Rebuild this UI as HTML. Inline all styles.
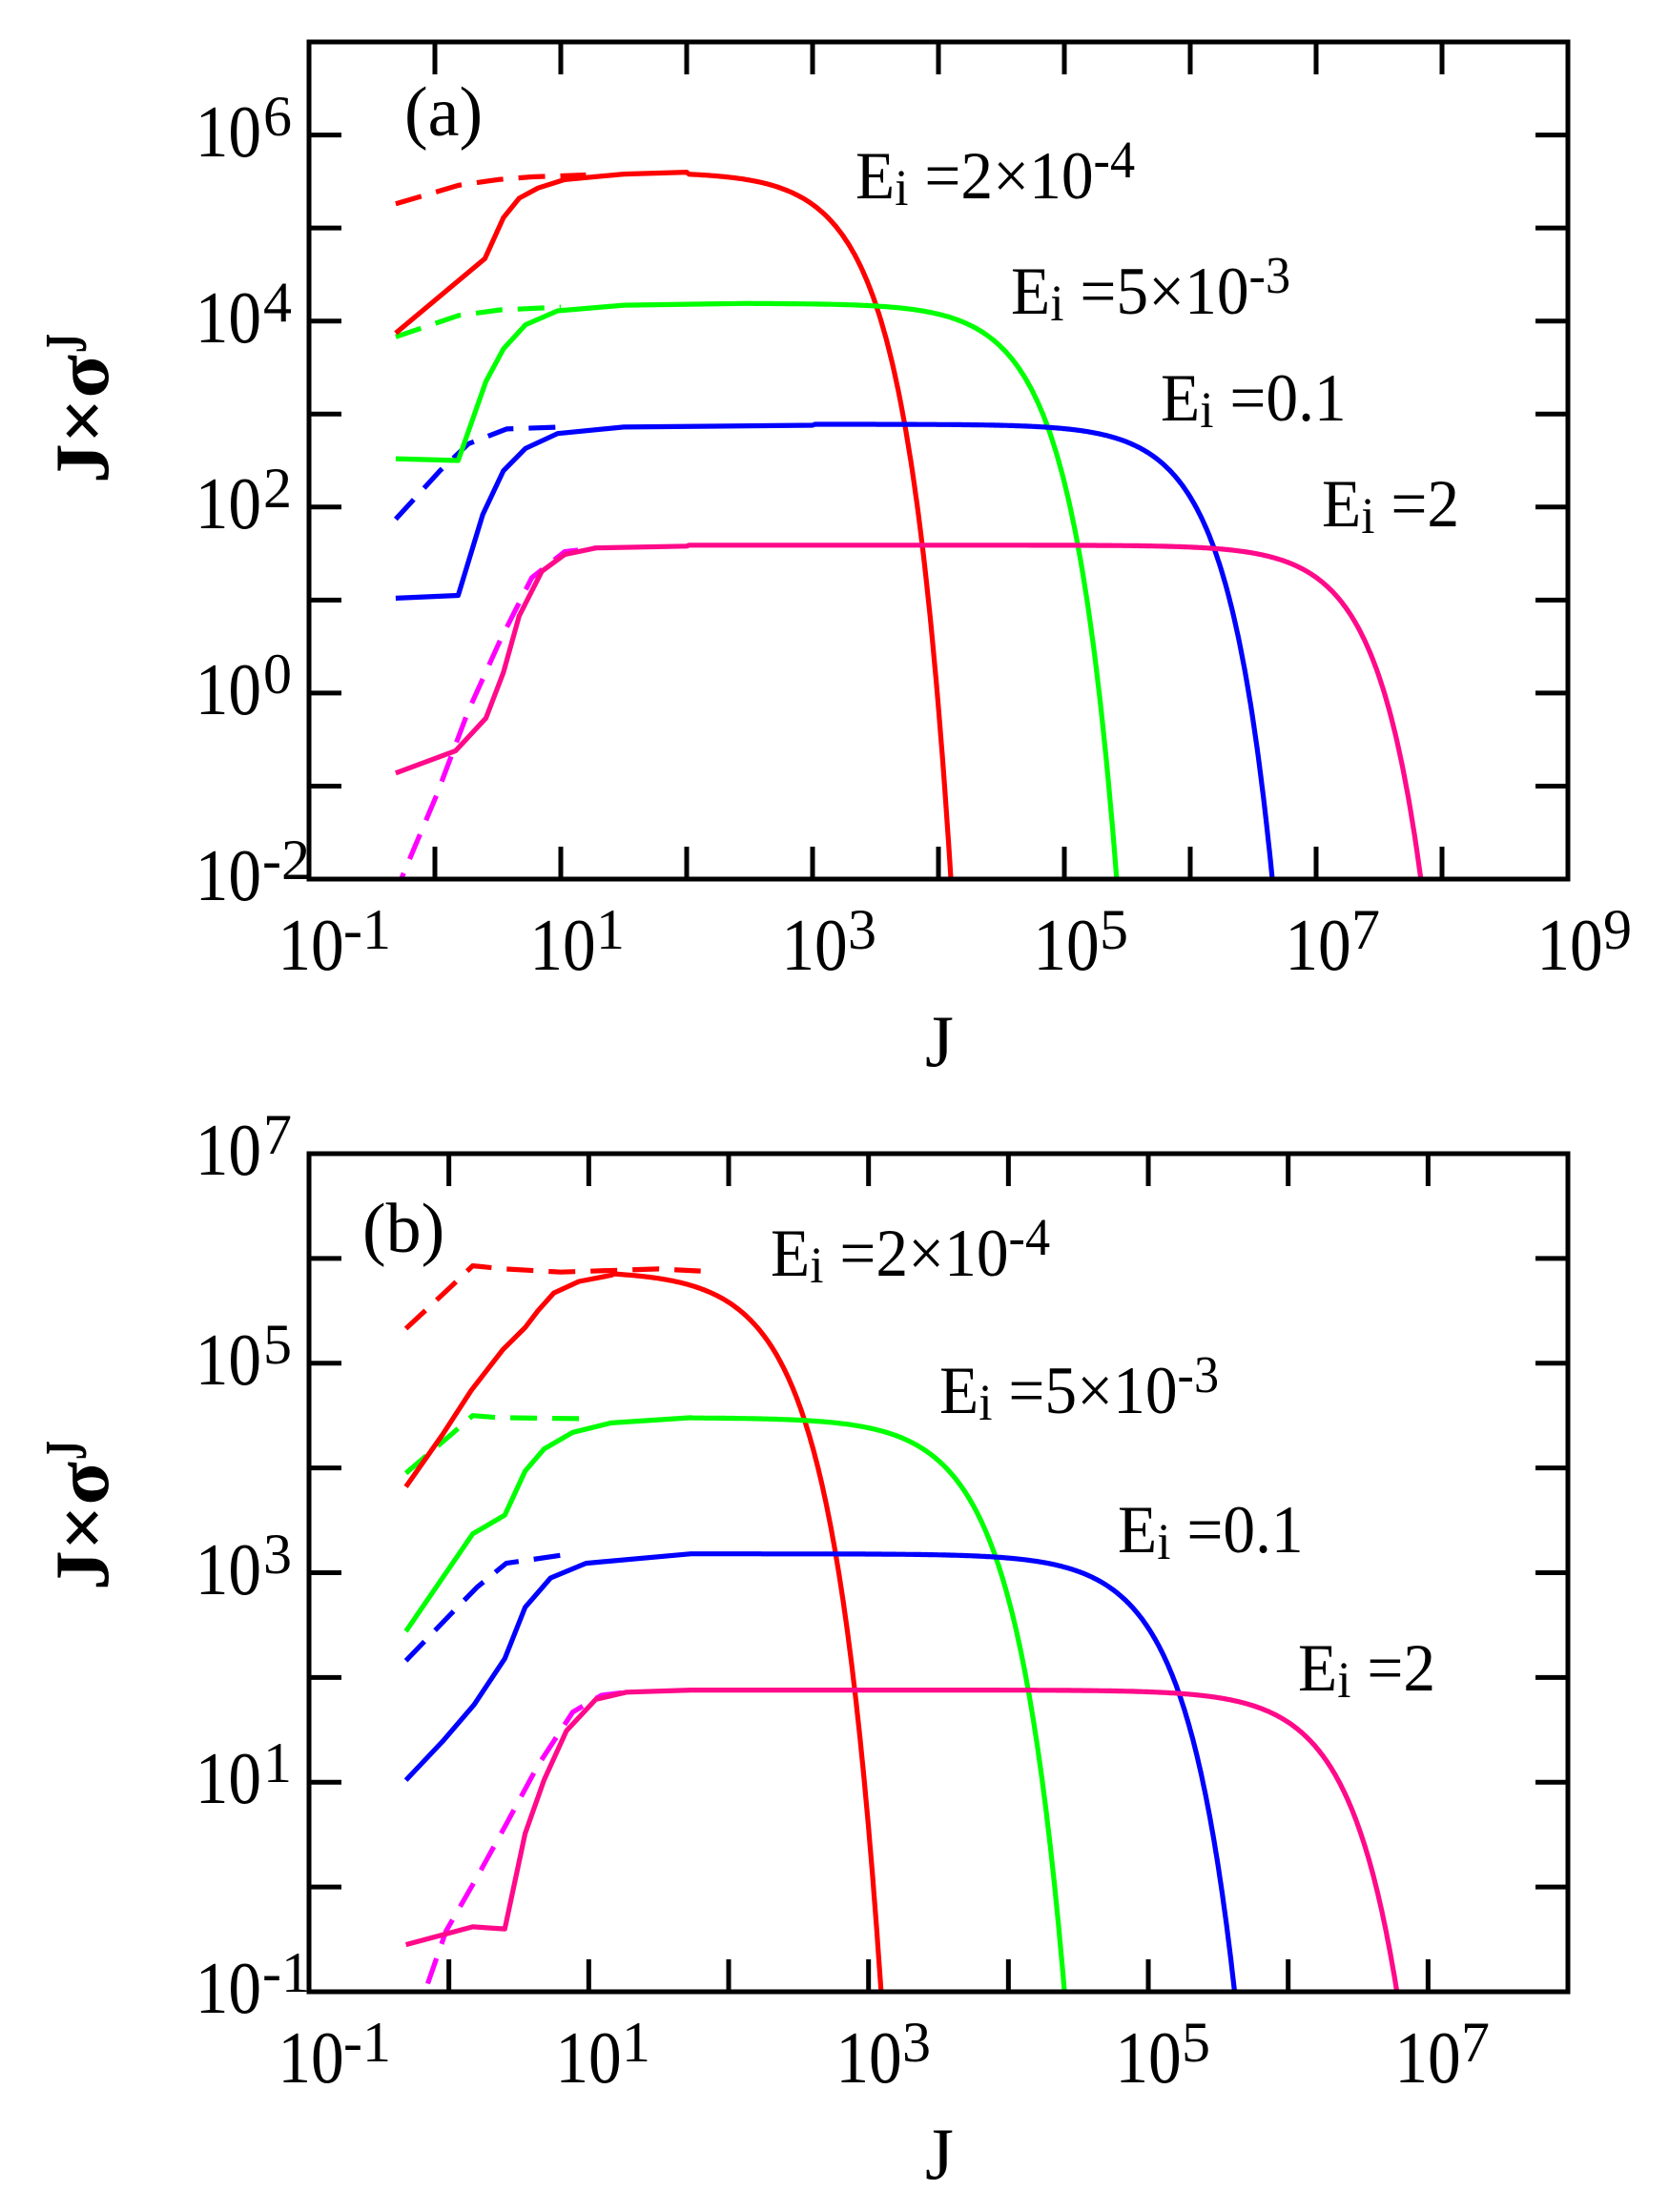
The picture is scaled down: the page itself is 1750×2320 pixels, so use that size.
<!DOCTYPE html>
<html><head><meta charset="utf-8">
<style>
html,body{margin:0;padding:0;background:#fff;}
svg{display:block;}
text{font-family:"Liberation Serif",serif;fill:#000;}
</style></head>
<body>
<svg id="s" width="1750" height="2320" viewBox="0 0 1750 2320" xmlns="http://www.w3.org/2000/svg">
<defs>
<clipPath id="ca"><rect x="324" y="44" width="1320" height="878"/></clipPath>
<clipPath id="cb"><rect x="324" y="1210" width="1320" height="879"/></clipPath>
</defs>
<g id="ga" clip-path="url(#ca)"></g>
<g id="gb" clip-path="url(#cb)"></g>
<g id="ticks" stroke="#000" stroke-width="5" fill="none"></g>
<rect x="324" y="44" width="1320" height="878" fill="none" stroke="#000" stroke-width="5"/>
<rect x="324" y="1210" width="1320" height="879" fill="none" stroke="#000" stroke-width="5"/>

<g font-size="77">
<text transform="translate(274,944) scale(0.9,1)" text-anchor="end">10</text>
<text transform="translate(274,749) scale(0.9,1)" text-anchor="end">10</text>
<text transform="translate(274,554) scale(0.9,1)" text-anchor="end">10</text>
<text transform="translate(274,359) scale(0.9,1)" text-anchor="end">10</text>
<text transform="translate(274,164) scale(0.9,1)" text-anchor="end">10</text>
</g>
<g font-size="60">
<text x="275" y="922">-2</text>
<text x="276" y="727">0</text>
<text x="276" y="532">2</text>
<text x="276" y="337">4</text>
<text x="276" y="142">6</text>
</g>
<g font-size="77">
<text transform="translate(326,1017) scale(0.9,1)" text-anchor="middle">10</text>
<text transform="translate(590,1017) scale(0.9,1)" text-anchor="middle">10</text>
<text transform="translate(854,1017) scale(0.9,1)" text-anchor="middle">10</text>
<text transform="translate(1118,1017) scale(0.9,1)" text-anchor="middle">10</text>
<text transform="translate(1382,1017) scale(0.9,1)" text-anchor="middle">10</text>
<text transform="translate(1646,1017) scale(0.9,1)" text-anchor="middle">10</text>
</g>
<g font-size="60">
<text x="360" y="995">-1</text>
<text x="625" y="995">1</text>
<text x="889" y="995">3</text>
<text x="1153" y="995">5</text>
<text x="1417" y="995">7</text>
<text x="1681" y="995">9</text>
</g>
<text transform="translate(985,1118)" font-size="77" text-anchor="middle">J</text>

<g font-size="77">
<text transform="translate(274,2111) scale(0.9,1)" text-anchor="end">10</text>
<text transform="translate(274,1891) scale(0.9,1)" text-anchor="end">10</text>
<text transform="translate(274,1672) scale(0.9,1)" text-anchor="end">10</text>
<text transform="translate(274,1452) scale(0.9,1)" text-anchor="end">10</text>
<text transform="translate(274,1232) scale(0.9,1)" text-anchor="end">10</text>
</g>
<g font-size="60">
<text x="275" y="2089">-1</text>
<text x="276" y="1869">1</text>
<text x="276" y="1650">3</text>
<text x="276" y="1430">5</text>
<text x="276" y="1210">7</text>
</g>
<g font-size="77">
<text transform="translate(326,2184) scale(0.9,1)" text-anchor="middle">10</text>
<text transform="translate(617,2184) scale(0.9,1)" text-anchor="middle">10</text>
<text transform="translate(911,2184) scale(0.9,1)" text-anchor="middle">10</text>
<text transform="translate(1204,2184) scale(0.9,1)" text-anchor="middle">10</text>
<text transform="translate(1497,2184) scale(0.9,1)" text-anchor="middle">10</text>
</g>
<g font-size="60">
<text x="360" y="2162">-1</text>
<text x="652" y="2162">1</text>
<text x="946" y="2162">3</text>
<text x="1239" y="2162">5</text>
<text x="1532" y="2162">7</text>
</g>
<text transform="translate(985,2285)" font-size="77" text-anchor="middle">J</text>

<text transform="translate(113,507) rotate(-90)" font-size="80" font-weight="bold" textLength="135" lengthAdjust="spacingAndGlyphs">J×σ</text>
<text transform="translate(90,370) rotate(-90)" font-size="62" font-weight="bold" textLength="20" lengthAdjust="spacingAndGlyphs">J</text>
<text transform="translate(113,1668) rotate(-90)" font-size="80" font-weight="bold" textLength="135" lengthAdjust="spacingAndGlyphs">J×σ</text>
<text transform="translate(90,1531) rotate(-90)" font-size="62" font-weight="bold" textLength="20" lengthAdjust="spacingAndGlyphs">J</text>

<text x="424" y="142" font-size="74">(a)</text>
<text x="380" y="1313" font-size="74">(b)</text>

<g font-size="71">
<text transform="translate(897,208) scale(0.95,1)">E<tspan font-size="54" dy="7">i</tspan><tspan dy="-7"> =2×10</tspan><tspan font-size="55" dy="-22">-4</tspan></text>
<text transform="translate(1060,329) scale(0.95,1)">E<tspan font-size="54" dy="7">i</tspan><tspan dy="-7"> =5×10</tspan><tspan font-size="55" dy="-22">-3</tspan></text>
<text transform="translate(1217,441) scale(0.95,1)">E<tspan font-size="54" dy="7">i</tspan><tspan dy="-7"> =0.1</tspan></text>
<text transform="translate(1386,552) scale(0.95,1)">E<tspan font-size="54" dy="7">i</tspan><tspan dy="-7"> =2</tspan></text>
<text transform="translate(808,1338) scale(0.95,1)">E<tspan font-size="54" dy="7">i</tspan><tspan dy="-7"> =2×10</tspan><tspan font-size="55" dy="-22">-4</tspan></text>
<text transform="translate(985,1482) scale(0.95,1)">E<tspan font-size="54" dy="7">i</tspan><tspan dy="-7"> =5×10</tspan><tspan font-size="55" dy="-22">-3</tspan></text>
<text transform="translate(1172,1628) scale(0.95,1)">E<tspan font-size="54" dy="7">i</tspan><tspan dy="-7"> =0.1</tspan></text>
<text transform="translate(1361,1773) scale(0.95,1)">E<tspan font-size="54" dy="7">i</tspan><tspan dy="-7"> =2</tspan></text>
</g>
</svg>
<script>
(function(){
var NS="http://www.w3.org/2000/svg";
function mk(parent,tag,attrs){var e=document.createElementNS(NS,tag);for(var k in attrs)e.setAttribute(k,attrs[k]);parent.appendChild(e);return e;}
var A={x0:324,dx:132,y0:922,dy:97.55,ymin:-2,lxmin:-1};
var B={x0:324,dx:146.67,y0:2089,dy:109.875,ymin:-1,lxmin:-1};
function px(P,lx){return P.x0+P.dx*(lx-P.lxmin);}
function py(P,ly){return P.y0-P.dy*(ly-P.ymin);}
function build(P,pts,cut){
  var a=pts.slice();
  if(cut){
    var P0=cut[0],lj=cut[1],p=cut[2];
    var x=pts[pts.length-1][0]+0.02;
    for(;x<12;x+=0.01){
      var y=P0-Math.pow(10,(x-lj)*p)/Math.LN10;
      a.push([x,y]);
      if(y<P.ymin-0.3)break;
    }
  }
  var d="";
  for(var i=0;i<a.length;i++){d+=(i?"L":"M")+px(P,a[i][0]).toFixed(1)+","+py(P,a[i][1]).toFixed(1);}
  return d;
}
function draw(g,P,pts,cut,col,dash){
  var at={d:build(P,pts,cut),fill:"none",stroke:col,"stroke-width":"5.2","stroke-linejoin":"round"};
  if(dash)at["stroke-dasharray"]="28 16";
  mk(g,"path",at);
}
var ga=document.getElementById("ga"),gb=document.getElementById("gb");
var R="#ff0000",G="#00ff00",Bl="#0000ff",Pk="#ff0a8a",Mg="#ff00ff";
draw(ga,A,[[-0.311,5.26],[0.19,5.46],[0.5,5.52],[0.77,5.55],[1.2,5.57]],null,R,true);
draw(ga,A,[[-0.311,3.83],[0.19,4.06],[0.52,4.12],[1.0,4.15]],null,G,true);
draw(ga,A,[[-0.311,1.87],[0.04,2.39],[0.266,2.68],[0.57,2.84],[1.0,2.86]],null,Bl,true);
draw(ga,A,[[-0.33,-2.2],[0.013,-1.1],[0.266,-0.19],[0.52,0.57],[0.77,1.24],[1.03,1.52],[1.28,1.56]],null,Mg,true);
draw(ga,A,[[-0.311,3.87],[0.397,4.67],[0.544,5.11],[0.67,5.32],[0.82,5.43],[1.03,5.52],[1.5,5.58],[2.0,5.6]],[5.6,3.08,1.22],R,false);
draw(ga,A,[[-0.311,2.52],[0.185,2.50],[0.405,3.35],[0.544,3.70],[0.72,3.96],[0.975,4.11],[1.5,4.17],[2.5,4.19]],[4.19,4.47,1.22],G,false);
draw(ga,A,[[-0.311,1.02],[0.185,1.05],[0.38,1.92],[0.544,2.39],[0.72,2.63],[0.975,2.79],[1.5,2.86],[3,2.88]],[2.89,5.79,1.22],Bl,false);
draw(ga,A,[[-0.311,-0.86],[0.165,-0.62],[0.405,-0.27],[0.544,0.22],[0.67,0.83],[0.85,1.31],[1.03,1.49],[1.28,1.56],[2,1.58]],[1.59,7.08,1.22],Pk,false);
draw(gb,B,[[-0.307,5.33],[0.023,5.74],[0.17,5.93],[0.4,5.9],[0.8,5.87],[1.5,5.9],[1.8,5.88]],null,R,true);
draw(gb,B,[[-0.307,3.95],[0.034,4.34],[0.17,4.5],[0.36,4.48],[1.0,4.47]],null,G,true);
draw(gb,B,[[-0.307,2.16],[0.01,2.6],[0.2,2.86],[0.41,3.09],[0.82,3.17]],null,Bl,true);
draw(gb,B,[[-0.25,-1.3],[-0.02,-0.42],[0.2,0.09],[0.41,0.6],[0.636,1.16],[0.886,1.67],[1.09,1.83],[1.27,1.86]],null,Mg,true);
draw(gb,B,[[-0.307,3.82],[-0.045,4.32],[0.16,4.74],[0.386,5.13],[0.545,5.34],[0.636,5.5],[0.75,5.67],[0.93,5.78],[1.16,5.84]],[5.88,2.13,1.25],R,false);
draw(gb,B,[[-0.307,2.44],[0.17,3.37],[0.4,3.55],[0.545,3.97],[0.68,4.18],[0.886,4.34],[1.16,4.43],[1.73,4.48]],[4.48,3.52,1.25],G,false);
draw(gb,B,[[-0.307,1.02],[-0.045,1.39],[0.18,1.74],[0.4,2.18],[0.545,2.67],[0.727,2.95],[0.98,3.09],[1.73,3.18]],[3.18,4.83,1.25],Bl,false);
draw(gb,B,[[-0.307,-0.55],[0.17,-0.38],[0.4,-0.4],[0.545,0.51],[0.68,1.02],[0.84,1.49],[1.05,1.79],[1.27,1.86],[1.73,1.88]],[1.88,6.12,1.25],Pk,false);
var gt=document.getElementById("ticks"),d="",L=34,i,x,y;
for(i=0;i<=8;i++){x=324+132*(i+1);d+="M"+x+",922V"+(922-L)+"M"+x+",44V"+(44+L);}
for(i=-1;i<=6;i++){y=922-97.55*(i+2);d+="M324,"+y+"H"+(324+L)+"M1644,"+y+"H"+(1644-L);}
for(i=0;i<=7;i++){x=324+146.67*(i+1);d+="M"+x+",2089V"+(2089-L)+"M"+x+",1210V"+(1210+L);}
for(i=0;i<=6;i++){y=2089-109.875*(i+1);d+="M324,"+y+"H"+(324+L)+"M1644,"+y+"H"+(1644-L);}
mk(gt,"path",{d:d});
})();
</script>
</body></html>
